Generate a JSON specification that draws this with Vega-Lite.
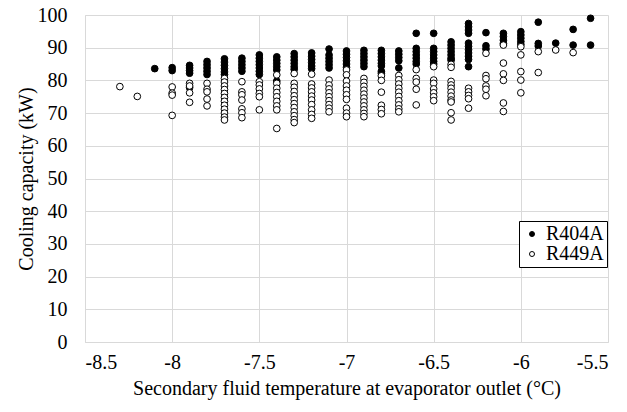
{
  "$schema": "https://vega.github.io/schema/vega-lite/v6.json",
  "width": 523,
  "height": 327,
  "autosize": {"type": "none"},
  "padding": {"left": 85, "top": 15, "right": 19, "bottom": 70},
  "background": "white",
  "config": {
    "font": "Liberation Serif",
    "view": {"stroke": null},
    "axis": {
      "gridColor": "#d9d9d9",
      "gridWidth": 1,
      "domainColor": "#d9d9d9",
      "ticks": false,
      "labelColor": "black",
      "titleColor": "black",
      "labelFont": "Liberation Serif",
      "titleFont": "Liberation Serif",
      "labelFontSize": 20,
      "titleFontSize": 20,
      "titleFontWeight": "normal"
    }
  },
  "data": {
    "values": [
      {"t": -8.1, "q": 83.6, "r": "R404A"},
      {"t": -8.0, "q": 83.9, "r": "R404A"},
      {"t": -8.0, "q": 83.0, "r": "R404A"},
      {"t": -7.9, "q": 84.6, "r": "R404A"},
      {"t": -7.9, "q": 83.8, "r": "R404A"},
      {"t": -7.9, "q": 83.0, "r": "R404A"},
      {"t": -7.9, "q": 82.2, "r": "R404A"},
      {"t": -7.9, "q": 77.8, "r": "R404A"},
      {"t": -7.8, "q": 85.8, "r": "R404A"},
      {"t": -7.8, "q": 84.8, "r": "R404A"},
      {"t": -7.8, "q": 83.8, "r": "R404A"},
      {"t": -7.8, "q": 82.8, "r": "R404A"},
      {"t": -7.8, "q": 81.8, "r": "R404A"},
      {"t": -7.7, "q": 86.6, "r": "R404A"},
      {"t": -7.7, "q": 85.6, "r": "R404A"},
      {"t": -7.7, "q": 84.6, "r": "R404A"},
      {"t": -7.7, "q": 83.6, "r": "R404A"},
      {"t": -7.7, "q": 82.6, "r": "R404A"},
      {"t": -7.7, "q": 81.8, "r": "R404A"},
      {"t": -7.6, "q": 86.8, "r": "R404A"},
      {"t": -7.6, "q": 85.8, "r": "R404A"},
      {"t": -7.6, "q": 84.8, "r": "R404A"},
      {"t": -7.6, "q": 83.8, "r": "R404A"},
      {"t": -7.6, "q": 82.8, "r": "R404A"},
      {"t": -7.5, "q": 87.8, "r": "R404A"},
      {"t": -7.5, "q": 86.8, "r": "R404A"},
      {"t": -7.5, "q": 85.8, "r": "R404A"},
      {"t": -7.5, "q": 84.8, "r": "R404A"},
      {"t": -7.5, "q": 83.8, "r": "R404A"},
      {"t": -7.5, "q": 82.8, "r": "R404A"},
      {"t": -7.5, "q": 81.8, "r": "R404A"},
      {"t": -7.4, "q": 87.2, "r": "R404A"},
      {"t": -7.4, "q": 86.2, "r": "R404A"},
      {"t": -7.4, "q": 85.2, "r": "R404A"},
      {"t": -7.4, "q": 84.2, "r": "R404A"},
      {"t": -7.4, "q": 83.2, "r": "R404A"},
      {"t": -7.4, "q": 79.8, "r": "R404A"},
      {"t": -7.3, "q": 88.2, "r": "R404A"},
      {"t": -7.3, "q": 87.2, "r": "R404A"},
      {"t": -7.3, "q": 86.2, "r": "R404A"},
      {"t": -7.3, "q": 85.2, "r": "R404A"},
      {"t": -7.3, "q": 84.2, "r": "R404A"},
      {"t": -7.3, "q": 83.4, "r": "R404A"},
      {"t": -7.2, "q": 88.4, "r": "R404A"},
      {"t": -7.2, "q": 87.4, "r": "R404A"},
      {"t": -7.2, "q": 86.4, "r": "R404A"},
      {"t": -7.2, "q": 85.4, "r": "R404A"},
      {"t": -7.2, "q": 84.4, "r": "R404A"},
      {"t": -7.2, "q": 83.6, "r": "R404A"},
      {"t": -7.1, "q": 89.6, "r": "R404A"},
      {"t": -7.1, "q": 87.8, "r": "R404A"},
      {"t": -7.1, "q": 86.8, "r": "R404A"},
      {"t": -7.1, "q": 85.8, "r": "R404A"},
      {"t": -7.1, "q": 84.8, "r": "R404A"},
      {"t": -7.1, "q": 83.8, "r": "R404A"},
      {"t": -7.0, "q": 89.0, "r": "R404A"},
      {"t": -7.0, "q": 88.0, "r": "R404A"},
      {"t": -7.0, "q": 87.0, "r": "R404A"},
      {"t": -7.0, "q": 86.0, "r": "R404A"},
      {"t": -7.0, "q": 85.0, "r": "R404A"},
      {"t": -7.0, "q": 84.0, "r": "R404A"},
      {"t": -6.9, "q": 89.2, "r": "R404A"},
      {"t": -6.9, "q": 88.2, "r": "R404A"},
      {"t": -6.9, "q": 87.2, "r": "R404A"},
      {"t": -6.9, "q": 86.2, "r": "R404A"},
      {"t": -6.9, "q": 85.2, "r": "R404A"},
      {"t": -6.9, "q": 84.2, "r": "R404A"},
      {"t": -6.8, "q": 89.2, "r": "R404A"},
      {"t": -6.8, "q": 88.2, "r": "R404A"},
      {"t": -6.8, "q": 87.2, "r": "R404A"},
      {"t": -6.8, "q": 86.2, "r": "R404A"},
      {"t": -6.8, "q": 85.2, "r": "R404A"},
      {"t": -6.8, "q": 84.4, "r": "R404A"},
      {"t": -6.8, "q": 82.8, "r": "R404A"},
      {"t": -6.8, "q": 82.2, "r": "R404A"},
      {"t": -6.7, "q": 89.0, "r": "R404A"},
      {"t": -6.7, "q": 88.0, "r": "R404A"},
      {"t": -6.7, "q": 87.0, "r": "R404A"},
      {"t": -6.7, "q": 86.0, "r": "R404A"},
      {"t": -6.7, "q": 83.8, "r": "R404A"},
      {"t": -6.6, "q": 94.4, "r": "R404A"},
      {"t": -6.6, "q": 89.8, "r": "R404A"},
      {"t": -6.6, "q": 88.8, "r": "R404A"},
      {"t": -6.6, "q": 87.8, "r": "R404A"},
      {"t": -6.6, "q": 86.8, "r": "R404A"},
      {"t": -6.6, "q": 85.8, "r": "R404A"},
      {"t": -6.6, "q": 85.0, "r": "R404A"},
      {"t": -6.5, "q": 94.4, "r": "R404A"},
      {"t": -6.5, "q": 89.8, "r": "R404A"},
      {"t": -6.5, "q": 88.8, "r": "R404A"},
      {"t": -6.5, "q": 87.8, "r": "R404A"},
      {"t": -6.5, "q": 86.8, "r": "R404A"},
      {"t": -6.5, "q": 85.8, "r": "R404A"},
      {"t": -6.5, "q": 85.0, "r": "R404A"},
      {"t": -6.4, "q": 91.8, "r": "R404A"},
      {"t": -6.4, "q": 90.8, "r": "R404A"},
      {"t": -6.4, "q": 89.8, "r": "R404A"},
      {"t": -6.4, "q": 88.8, "r": "R404A"},
      {"t": -6.4, "q": 87.8, "r": "R404A"},
      {"t": -6.4, "q": 86.8, "r": "R404A"},
      {"t": -6.4, "q": 86.2, "r": "R404A"},
      {"t": -6.3, "q": 97.4, "r": "R404A"},
      {"t": -6.3, "q": 96.4, "r": "R404A"},
      {"t": -6.3, "q": 95.4, "r": "R404A"},
      {"t": -6.3, "q": 94.4, "r": "R404A"},
      {"t": -6.3, "q": 91.4, "r": "R404A"},
      {"t": -6.3, "q": 90.4, "r": "R404A"},
      {"t": -6.3, "q": 89.4, "r": "R404A"},
      {"t": -6.3, "q": 88.4, "r": "R404A"},
      {"t": -6.3, "q": 87.4, "r": "R404A"},
      {"t": -6.3, "q": 86.4, "r": "R404A"},
      {"t": -6.3, "q": 84.2, "r": "R404A"},
      {"t": -6.2, "q": 94.6, "r": "R404A"},
      {"t": -6.2, "q": 90.6, "r": "R404A"},
      {"t": -6.2, "q": 89.6, "r": "R404A"},
      {"t": -6.1, "q": 94.4, "r": "R404A"},
      {"t": -6.1, "q": 93.4, "r": "R404A"},
      {"t": -6.1, "q": 92.3, "r": "R404A"},
      {"t": -6.1, "q": 91.3, "r": "R404A"},
      {"t": -6.0, "q": 94.9, "r": "R404A"},
      {"t": -6.0, "q": 93.9, "r": "R404A"},
      {"t": -6.0, "q": 92.9, "r": "R404A"},
      {"t": -6.0, "q": 91.9, "r": "R404A"},
      {"t": -6.0, "q": 91.0, "r": "R404A"},
      {"t": -5.9, "q": 97.8, "r": "R404A"},
      {"t": -5.9, "q": 91.3, "r": "R404A"},
      {"t": -5.9, "q": 90.5, "r": "R404A"},
      {"t": -5.8, "q": 91.4, "r": "R404A"},
      {"t": -5.7, "q": 95.6, "r": "R404A"},
      {"t": -5.7, "q": 90.8, "r": "R404A"},
      {"t": -5.6, "q": 99.0, "r": "R404A"},
      {"t": -5.6, "q": 90.8, "r": "R404A"},
      {"t": -8.3, "q": 78.1, "r": "R449A"},
      {"t": -8.2, "q": 75.1, "r": "R449A"},
      {"t": -8.0, "q": 78.0, "r": "R449A"},
      {"t": -8.0, "q": 76.1, "r": "R449A"},
      {"t": -8.0, "q": 75.5, "r": "R449A"},
      {"t": -8.0, "q": 69.3, "r": "R449A"},
      {"t": -7.9, "q": 79.1, "r": "R449A"},
      {"t": -7.9, "q": 78.3, "r": "R449A"},
      {"t": -7.9, "q": 76.2, "r": "R449A"},
      {"t": -7.9, "q": 73.3, "r": "R449A"},
      {"t": -7.8, "q": 79.1, "r": "R449A"},
      {"t": -7.8, "q": 77.3, "r": "R449A"},
      {"t": -7.8, "q": 76.5, "r": "R449A"},
      {"t": -7.8, "q": 74.3, "r": "R449A"},
      {"t": -7.8, "q": 72.2, "r": "R449A"},
      {"t": -7.7, "q": 80.6, "r": "R449A"},
      {"t": -7.7, "q": 79.5, "r": "R449A"},
      {"t": -7.7, "q": 78.3, "r": "R449A"},
      {"t": -7.7, "q": 77.2, "r": "R449A"},
      {"t": -7.7, "q": 76.0, "r": "R449A"},
      {"t": -7.7, "q": 74.8, "r": "R449A"},
      {"t": -7.7, "q": 73.6, "r": "R449A"},
      {"t": -7.7, "q": 72.4, "r": "R449A"},
      {"t": -7.7, "q": 71.2, "r": "R449A"},
      {"t": -7.7, "q": 70.0, "r": "R449A"},
      {"t": -7.7, "q": 68.8, "r": "R449A"},
      {"t": -7.7, "q": 67.9, "r": "R449A"},
      {"t": -7.6, "q": 79.6, "r": "R449A"},
      {"t": -7.6, "q": 76.5, "r": "R449A"},
      {"t": -7.6, "q": 75.6, "r": "R449A"},
      {"t": -7.6, "q": 74.0, "r": "R449A"},
      {"t": -7.6, "q": 71.3, "r": "R449A"},
      {"t": -7.6, "q": 70.1, "r": "R449A"},
      {"t": -7.6, "q": 68.6, "r": "R449A"},
      {"t": -7.5, "q": 79.6, "r": "R449A"},
      {"t": -7.5, "q": 78.6, "r": "R449A"},
      {"t": -7.5, "q": 77.4, "r": "R449A"},
      {"t": -7.5, "q": 76.0, "r": "R449A"},
      {"t": -7.5, "q": 75.0, "r": "R449A"},
      {"t": -7.5, "q": 71.0, "r": "R449A"},
      {"t": -7.4, "q": 81.7, "r": "R449A"},
      {"t": -7.4, "q": 79.1, "r": "R449A"},
      {"t": -7.4, "q": 77.6, "r": "R449A"},
      {"t": -7.4, "q": 76.3, "r": "R449A"},
      {"t": -7.4, "q": 75.0, "r": "R449A"},
      {"t": -7.4, "q": 73.6, "r": "R449A"},
      {"t": -7.4, "q": 72.2, "r": "R449A"},
      {"t": -7.4, "q": 71.0, "r": "R449A"},
      {"t": -7.4, "q": 65.3, "r": "R449A"},
      {"t": -7.3, "q": 82.1, "r": "R449A"},
      {"t": -7.3, "q": 79.1, "r": "R449A"},
      {"t": -7.3, "q": 77.9, "r": "R449A"},
      {"t": -7.3, "q": 76.6, "r": "R449A"},
      {"t": -7.3, "q": 75.3, "r": "R449A"},
      {"t": -7.3, "q": 74.1, "r": "R449A"},
      {"t": -7.3, "q": 72.9, "r": "R449A"},
      {"t": -7.3, "q": 71.7, "r": "R449A"},
      {"t": -7.3, "q": 70.4, "r": "R449A"},
      {"t": -7.3, "q": 69.2, "r": "R449A"},
      {"t": -7.3, "q": 68.0, "r": "R449A"},
      {"t": -7.3, "q": 67.1, "r": "R449A"},
      {"t": -7.2, "q": 81.9, "r": "R449A"},
      {"t": -7.2, "q": 78.9, "r": "R449A"},
      {"t": -7.2, "q": 77.7, "r": "R449A"},
      {"t": -7.2, "q": 76.5, "r": "R449A"},
      {"t": -7.2, "q": 75.2, "r": "R449A"},
      {"t": -7.2, "q": 74.0, "r": "R449A"},
      {"t": -7.2, "q": 72.6, "r": "R449A"},
      {"t": -7.2, "q": 71.0, "r": "R449A"},
      {"t": -7.2, "q": 69.6, "r": "R449A"},
      {"t": -7.2, "q": 68.4, "r": "R449A"},
      {"t": -7.1, "q": 80.1, "r": "R449A"},
      {"t": -7.1, "q": 78.6, "r": "R449A"},
      {"t": -7.1, "q": 77.4, "r": "R449A"},
      {"t": -7.1, "q": 76.2, "r": "R449A"},
      {"t": -7.1, "q": 75.0, "r": "R449A"},
      {"t": -7.1, "q": 73.8, "r": "R449A"},
      {"t": -7.1, "q": 72.6, "r": "R449A"},
      {"t": -7.1, "q": 71.5, "r": "R449A"},
      {"t": -7.1, "q": 70.4, "r": "R449A"},
      {"t": -7.0, "q": 83.2, "r": "R449A"},
      {"t": -7.0, "q": 81.7, "r": "R449A"},
      {"t": -7.0, "q": 79.8, "r": "R449A"},
      {"t": -7.0, "q": 78.3, "r": "R449A"},
      {"t": -7.0, "q": 77.0, "r": "R449A"},
      {"t": -7.0, "q": 75.6, "r": "R449A"},
      {"t": -7.0, "q": 74.2, "r": "R449A"},
      {"t": -7.0, "q": 71.5, "r": "R449A"},
      {"t": -7.0, "q": 70.0, "r": "R449A"},
      {"t": -7.0, "q": 68.9, "r": "R449A"},
      {"t": -6.9, "q": 80.6, "r": "R449A"},
      {"t": -6.9, "q": 79.4, "r": "R449A"},
      {"t": -6.9, "q": 78.2, "r": "R449A"},
      {"t": -6.9, "q": 77.0, "r": "R449A"},
      {"t": -6.9, "q": 75.8, "r": "R449A"},
      {"t": -6.9, "q": 74.6, "r": "R449A"},
      {"t": -6.9, "q": 73.4, "r": "R449A"},
      {"t": -6.9, "q": 72.2, "r": "R449A"},
      {"t": -6.9, "q": 71.0, "r": "R449A"},
      {"t": -6.9, "q": 69.9, "r": "R449A"},
      {"t": -6.9, "q": 68.9, "r": "R449A"},
      {"t": -6.8, "q": 81.4, "r": "R449A"},
      {"t": -6.8, "q": 80.0, "r": "R449A"},
      {"t": -6.8, "q": 76.4, "r": "R449A"},
      {"t": -6.8, "q": 72.4, "r": "R449A"},
      {"t": -6.8, "q": 71.1, "r": "R449A"},
      {"t": -6.8, "q": 69.8, "r": "R449A"},
      {"t": -6.7, "q": 81.5, "r": "R449A"},
      {"t": -6.7, "q": 80.2, "r": "R449A"},
      {"t": -6.7, "q": 78.9, "r": "R449A"},
      {"t": -6.7, "q": 77.6, "r": "R449A"},
      {"t": -6.7, "q": 76.4, "r": "R449A"},
      {"t": -6.7, "q": 75.1, "r": "R449A"},
      {"t": -6.7, "q": 73.8, "r": "R449A"},
      {"t": -6.7, "q": 72.5, "r": "R449A"},
      {"t": -6.7, "q": 71.3, "r": "R449A"},
      {"t": -6.7, "q": 70.4, "r": "R449A"},
      {"t": -6.6, "q": 83.3, "r": "R449A"},
      {"t": -6.6, "q": 80.6, "r": "R449A"},
      {"t": -6.6, "q": 79.5, "r": "R449A"},
      {"t": -6.6, "q": 77.3, "r": "R449A"},
      {"t": -6.6, "q": 72.5, "r": "R449A"},
      {"t": -6.5, "q": 84.2, "r": "R449A"},
      {"t": -6.5, "q": 80.1, "r": "R449A"},
      {"t": -6.5, "q": 79.1, "r": "R449A"},
      {"t": -6.5, "q": 77.4, "r": "R449A"},
      {"t": -6.5, "q": 76.2, "r": "R449A"},
      {"t": -6.5, "q": 75.0, "r": "R449A"},
      {"t": -6.5, "q": 73.8, "r": "R449A"},
      {"t": -6.4, "q": 84.9, "r": "R449A"},
      {"t": -6.4, "q": 84.0, "r": "R449A"},
      {"t": -6.4, "q": 79.7, "r": "R449A"},
      {"t": -6.4, "q": 78.6, "r": "R449A"},
      {"t": -6.4, "q": 77.6, "r": "R449A"},
      {"t": -6.4, "q": 76.4, "r": "R449A"},
      {"t": -6.4, "q": 75.2, "r": "R449A"},
      {"t": -6.4, "q": 74.0, "r": "R449A"},
      {"t": -6.4, "q": 73.4, "r": "R449A"},
      {"t": -6.4, "q": 70.1, "r": "R449A"},
      {"t": -6.4, "q": 67.9, "r": "R449A"},
      {"t": -6.3, "q": 77.6, "r": "R449A"},
      {"t": -6.3, "q": 76.5, "r": "R449A"},
      {"t": -6.3, "q": 75.4, "r": "R449A"},
      {"t": -6.3, "q": 74.4, "r": "R449A"},
      {"t": -6.3, "q": 71.5, "r": "R449A"},
      {"t": -6.2, "q": 88.3, "r": "R449A"},
      {"t": -6.2, "q": 81.5, "r": "R449A"},
      {"t": -6.2, "q": 80.5, "r": "R449A"},
      {"t": -6.2, "q": 78.3, "r": "R449A"},
      {"t": -6.2, "q": 77.3, "r": "R449A"},
      {"t": -6.2, "q": 75.3, "r": "R449A"},
      {"t": -6.1, "q": 90.8, "r": "R449A"},
      {"t": -6.1, "q": 85.3, "r": "R449A"},
      {"t": -6.1, "q": 82.0, "r": "R449A"},
      {"t": -6.1, "q": 80.0, "r": "R449A"},
      {"t": -6.1, "q": 73.1, "r": "R449A"},
      {"t": -6.1, "q": 70.5, "r": "R449A"},
      {"t": -6.0, "q": 90.3, "r": "R449A"},
      {"t": -6.0, "q": 87.8, "r": "R449A"},
      {"t": -6.0, "q": 82.7, "r": "R449A"},
      {"t": -6.0, "q": 80.1, "r": "R449A"},
      {"t": -6.0, "q": 76.2, "r": "R449A"},
      {"t": -5.9, "q": 88.8, "r": "R449A"},
      {"t": -5.9, "q": 82.4, "r": "R449A"},
      {"t": -5.8, "q": 89.3, "r": "R449A"},
      {"t": -5.7, "q": 88.5, "r": "R449A"}
    ]
  },
  "mark": {"type": "point", "shape": "circle", "filled": true, "stroke": "black", "strokeWidth": 1, "size": 45, "opacity": 1},
  "encoding": {
    "x": {
      "field": "t",
      "type": "quantitative",
      "scale": {"domain": [-8.5, -5.5], "nice": false, "zero": false},
      "axis": {
        "title": "Secondary fluid temperature at evaporator outlet (°C)",
        "values": [-8.5, -8, -7.5, -7, -6.5, -6, -5.5],
        "labelExpr": "'' + datum.value",
        "labelPadding": 10,
        "titlePadding": 6
      }
    },
    "y": {
      "field": "q",
      "type": "quantitative",
      "scale": {"domain": [0, 100], "nice": false},
      "axis": {
        "title": "Cooling capacity (kW)",
        "values": [0, 10, 20, 30, 40, 50, 60, 70, 80, 90, 100],
        "labelPadding": 18,
        "titlePadding": 1
      }
    },
    "fill": {
      "field": "r",
      "type": "nominal",
      "scale": {"domain": ["R404A", "R449A"], "range": ["black", "white"]},
      "legend": {
        "title": null,
        "orient": "none",
        "legendX": 434,
        "legendY": 206,
        "strokeColor": "black",
        "fillColor": "white",
        "padding": 3,
        "labelFontSize": 20,
        "labelFont": "Liberation Serif",
        "labelColor": "black",
        "symbolType": "circle",
        "symbolSize": 25,
        "symbolStrokeColor": "black",
        "symbolStrokeWidth": 1,
        "rowPadding": 0,
        "labelOffset": 4
      }
    }
  }
}
